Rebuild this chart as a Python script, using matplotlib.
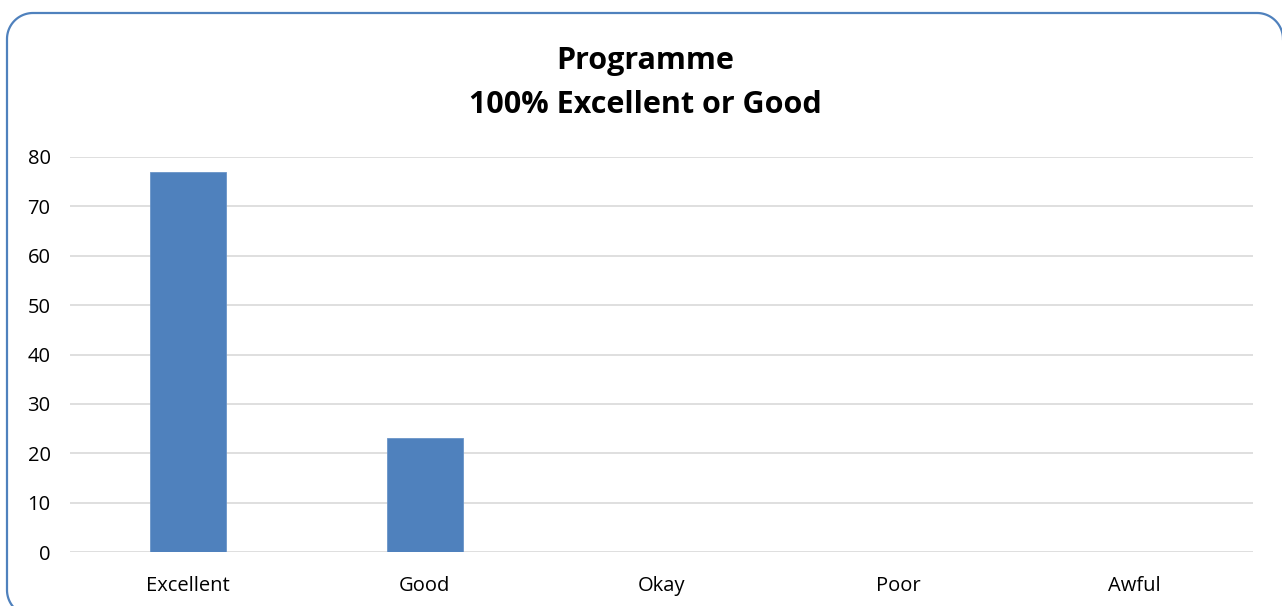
import numpy as np
import matplotlib.pyplot as plt
from matplotlib.lines import Line2D

# chart data
categories = ['Excellent', 'Good', 'Okay', 'Poor', 'Awful']
values = [77, 23, 0, 0, 0]
title_lines = ['Programme', '100% Excellent or Good']

BAR_COLOR = '#4f81bd'
GRID_COLOR = '#d9d9d9'

plt.rcParams['font.family'] = ['Open Sans', 'DejaVu Sans']

fig = plt.figure(figsize=(12.82, 6.06), dpi=100)
W, H = 1282, 606


def arc(cx, cy, r, a0, a1, n=30):
    t = np.radians(np.linspace(a0, a1, n))
    return cx + r * np.cos(t), cy + r * np.sin(t)


# rounded chart border (pixels, y up); right and bottom sides run off the image
R = 26
left, top, right, bottom = 7, H - 13, 1283, -10
pieces = [
    arc(right - R, top - R, R, 0, 90),
    arc(left + R, top - R, R, 90, 180),
    arc(left + R, bottom + R, R, 180, 270),
]
bx = np.concatenate([p[0] for p in pieces])
by = np.concatenate([p[1] for p in pieces])
fig.add_artist(Line2D(bx / W, by / H, transform=fig.transFigure,
                      color='#4f81bd', linewidth=1.6, zorder=5))

ax = fig.add_axes([70 / W, (H - 552) / H, (1253 - 70) / W, (552 - 157) / H])
ax.set_facecolor('none')

x = range(len(categories))
ax.bar(x, values, width=0.32, color=BAR_COLOR, edgecolor='#6a94c8', linewidth=0.6, zorder=3)

ax.set_xlim(-0.5, len(categories) - 0.5)
ax.set_ylim(0, 80)
ax.set_yticks(range(0, 81, 10))
ax.set_xticks(list(x))
ax.set_xticklabels(categories)
ax.yaxis.grid(True, color=GRID_COLOR, linewidth=1.2, zorder=0)
ax.set_axisbelow(True)
for s in ax.spines.values():
    s.set_visible(False)
ax.tick_params(axis='both', length=0, labelsize=14.5, colors='black')
ax.tick_params(axis='y', pad=14)
ax.tick_params(axis='x', pad=17)

fig.text(645 / W, 1 - 61 / H, title_lines[0], ha='center', va='center',
         fontsize=22, fontweight='bold')
fig.text(645 / W, 1 - 105 / H, title_lines[1], ha='center', va='center',
         fontsize=22, fontweight='bold')

fig.savefig('out.png', dpi=100)
